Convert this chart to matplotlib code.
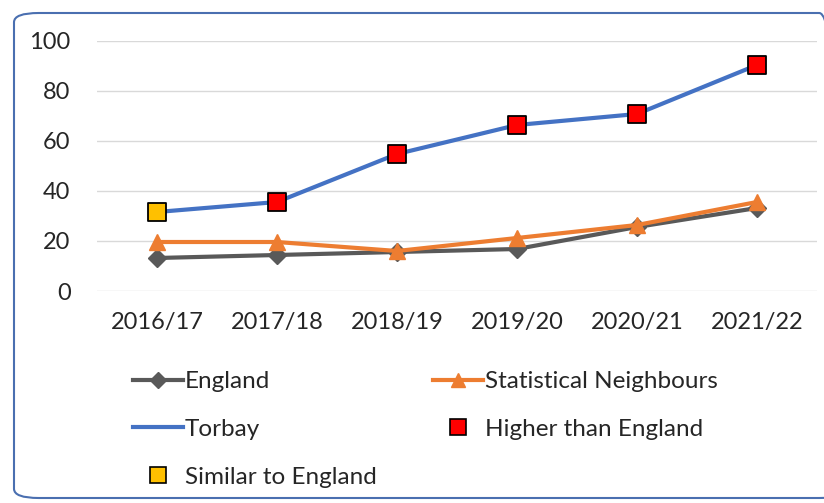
import matplotlib.pyplot as plt
from matplotlib.patches import FancyBboxPatch
from matplotlib.lines import Line2D

plt.rcParams['font.family'] = ['Lato', 'DejaVu Sans']

years = ['2016/17', '2017/18', '2018/19', '2019/20', '2020/21', '2021/22']
england = [13.2, 14.4, 15.6, 16.8, 25.6, 33.2]
stat_neighbours = [19.6, 19.6, 16.0, 21.2, 26.4, 35.6]
torbay = [31.6, 35.6, 54.8, 66.4, 70.8, 90.4]
torbay_status = ['similar', 'higher', 'higher', 'higher', 'higher', 'higher']
status_colours = {'higher': '#FF0000', 'similar': '#FFC000'}

fs_tick = 17
fs_leg = 17.5

fig = plt.figure(figsize=(8.24, 5.03), dpi=100)
ax = fig.add_axes([97 / 824, 1 - 291 / 503, 720 / 824, 250 / 503])

x = list(range(len(years)))
ax.plot(x, england, color='#595959', lw=3, marker='D', ms=9, zorder=3)
ax.plot(x, stat_neighbours, color='#ED7D31', lw=3, marker='^', ms=11, zorder=4)
ax.plot(x, torbay, color='#4472C4', lw=3, zorder=5)
ax.scatter(x, torbay, marker='s', s=170, c=[status_colours[s] for s in torbay_status],
           edgecolors='black', linewidths=1.3, zorder=6)

ax.set_xlim(-0.5, 5.5)
ax.set_ylim(0, 100)
ax.set_yticks(range(0, 101, 20))
ax.set_xticks(x)
ax.set_xticklabels(years)
ax.grid(axis='y', color='#D9D9D9', lw=1)
ax.set_axisbelow(True)
for s in ax.spines.values():
    s.set_visible(False)
ax.tick_params(length=0, labelsize=fs_tick, colors='#262626')
ax.tick_params(axis='y', pad=19)
ax.tick_params(axis='x', pad=15)

# legend in two columns
h_eng = Line2D([], [], color='#595959', lw=3, marker='D', ms=8)
h_sn = Line2D([], [], color='#ED7D31', lw=3, marker='^', ms=10)
h_tor = Line2D([], [], color='#4472C4', lw=3)
h_hi = Line2D([], [], ls='none', marker='s', ms=11, mfc='#FF0000', mec='black', mew=1.2)
h_sim = Line2D([], [], ls='none', marker='s', ms=11, mfc='#FFC000', mec='black', mew=1.2)

leg_kw = dict(frameon=False, fontsize=fs_leg, handlelength=2.05, handletextpad=0.08,
              labelspacing=1.1, loc='upper left', borderpad=0, borderaxespad=0)
leg1 = fig.legend([h_eng, h_tor, h_sim], ['England', 'Torbay', 'Similar to England'],
                  bbox_to_anchor=(133 / 824, 1 - 371 / 503), **leg_kw)
leg2 = fig.legend([h_sn, h_hi], ['Statistical Neighbours', 'Higher than England'],
                  bbox_to_anchor=(433 / 824, 1 - 371 / 503), **leg_kw)
for leg in (leg1, leg2):
    for t in leg.get_texts():
        t.set_color('#262626')

# rounded border around the chart
border = FancyBboxPatch((14 / 824, 5 / 503), 830 / 824, 485 / 503,
                        boxstyle='round,pad=0,rounding_size=0.03',
                        transform=fig.transFigure, fill=False,
                        edgecolor='#4A6FB0', lw=1.5, mutation_aspect=503 / 824)
fig.patches.append(border)

fig.savefig('out.png', dpi=100)
